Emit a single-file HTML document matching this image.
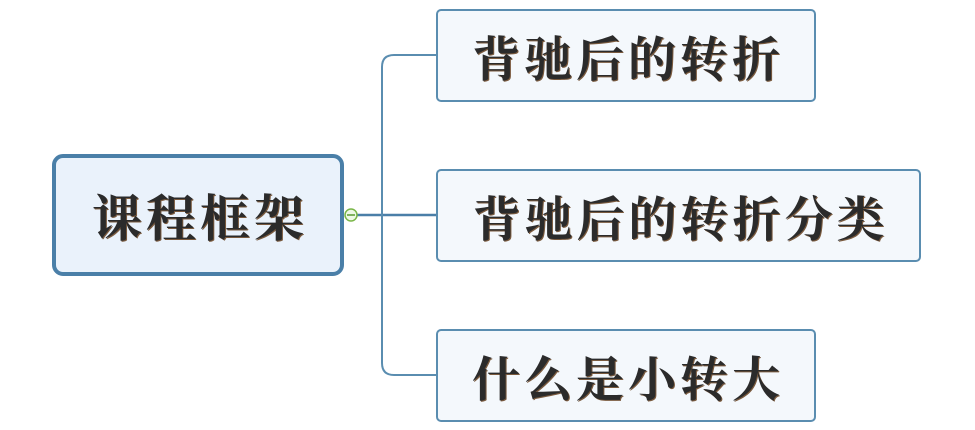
<!DOCTYPE html>
<html><head><meta charset="utf-8"><style>
body{margin:0;width:975px;height:430px;background:#fff;position:relative;overflow:hidden;font-family:"Noto Serif CJK SC","Liberation Serif",serif;}
.b{position:absolute;box-sizing:border-box;display:flex;align-items:center;justify-content:center;color:#2b2b2b;font-weight:bold;font-size:48px;letter-spacing:4px;text-shadow:1px 1px 0 #7a5a3e;padding-left:4px;}
.c{left:52px;top:154px;width:292px;height:122px;border:4px solid #4a7fa8;border-radius:11px;background:#eaf2fb;font-size:50px;}
.r{left:436px;width:380px;height:93px;border:2px solid #5a8db0;border-radius:5px;background:#f4f8fc;}
</style></head><body>
<svg width="975" height="430" style="position:absolute;left:0;top:0">
<path d="M357 215 H436" stroke="#4a7fa8" stroke-width="2.5" fill="none"/>
<path d="M436 55 H394 Q382 55 382 67 V363 Q382 375 394 375 H436" stroke="#5a8db0" stroke-width="2" fill="none"/>
<circle cx="351" cy="215" r="6" fill="#eef8e6" stroke="#7ab648" stroke-width="1.5"/>
<line x1="347" y1="215" x2="355" y2="215" stroke="#5a9a30" stroke-width="1.5"/>
</svg>
<div class="b c">课程框架</div>
<div class="b r" style="top:9px">背驰后的转折</div>
<div class="b r" style="top:169px;width:485px">背驰后的转折分类</div>
<div class="b r" style="top:329px">什么是小转大</div>
</body></html>
